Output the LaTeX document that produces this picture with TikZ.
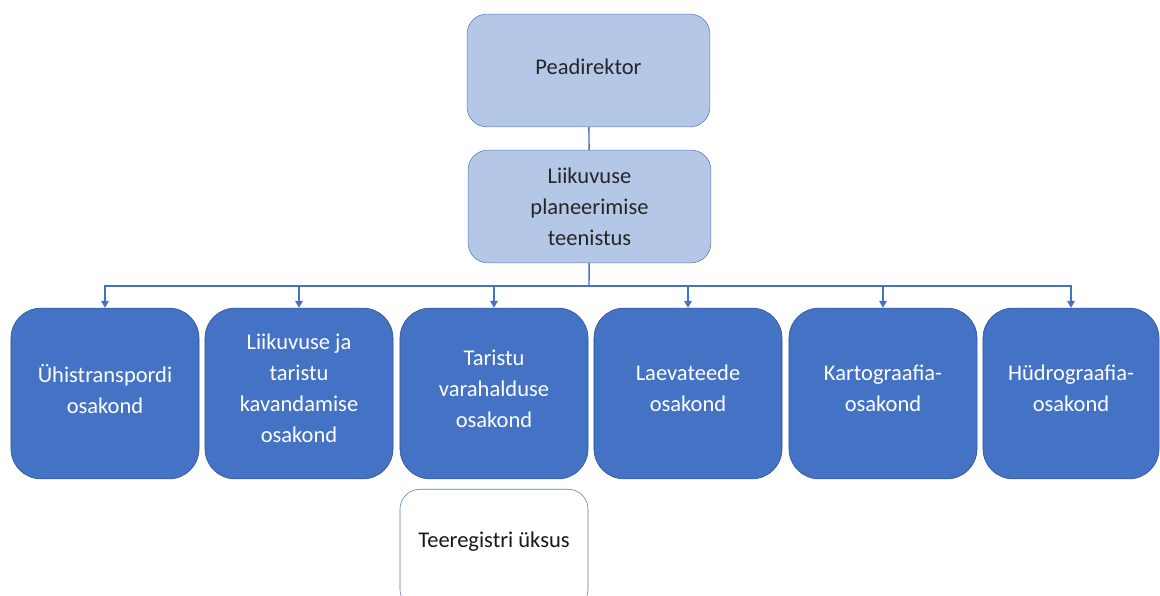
\documentclass[tikz,border=0pt]{standalone}
\usepackage{fontspec}
\setmainfont{Carlito}
\usetikzlibrary{arrows.meta}
\definecolor{lightfill}{HTML}{B4C7E7}
\definecolor{accent}{HTML}{4472C4}
\definecolor{darkline}{HTML}{2F528F}
\definecolor{topline}{HTML}{5A7BB8}
\begin{document}
\begin{tikzpicture}[
	x = 0.025cm, y = -0.025cm,
	every node/.style = {inner sep = 0pt, align = center, font = \fontsize{16}{22}\selectfont},
	head/.style = {draw = topline, fill = lightfill, rounded corners = 0.5cm, minimum width = 6.07cm, minimum height = 2.82cm, text = black!85},
	dept/.style = {draw = darkline, fill = accent, rounded corners = 0.75cm, minimum width = 4.7cm, minimum height = 4.27cm, text = white, text depth = 7pt},
	unit/.style = {draw = topline, fill = white, rounded corners = 0.5cm, minimum width = 4.7cm, minimum height = 3cm, text = black!90},
	conn/.style = {draw = accent, line width = 1pt},
	down/.style = {conn, -{Triangle[width = 5.5pt, length = 5pt]}}
	]
	\useasboundingbox (0,0) rectangle (1160,596);

	% top of the chart
	\node[head, text depth = 6pt] (chief) at (588.5,70.5) {Peadirektor};
	\node[head] (service) at (589.5,206.5) {Liikuvuse\\planeerimise\\teenistus};

	% departments
	\node[dept] (d1) at (105,393.5) {Ühistranspordi\\osakond};
	\node[dept] (d2) at (299,393.5) {Liikuvuse ja\\taristu\\kavandamise\\osakond};
	\node[dept] (d3) at (494,393.5) {Taristu\\varahalduse\\osakond};
	\node[dept] (d4) at (688,393.5) {Laevateede\\osakond};
	\node[dept] (d5) at (883,393.5) {Kartograafia-\\osakond};
	\node[dept, minimum width = 4.4cm] (d6) at (1071,393.5) {Hüdrograafia-\\osakond};

	\node[unit, anchor = north, text height = 12pt, text depth = 15pt] (reg) at (494,489) {Teeregistri üksus};

	% connectors
	\coordinate (bus) at (589,286);
	\draw[conn] (chief) -- (service);
	\draw[conn] (service) -- (bus);
	\draw[down] (bus) -| (d1);
	\draw[down] (bus) -| (d2);
	\draw[down] (bus) -| (d3);
	\draw[down] (bus) -| (d4);
	\draw[down] (bus) -| (d5);
	\draw[down] (bus) -| (d6);
\end{tikzpicture}
\end{document}
